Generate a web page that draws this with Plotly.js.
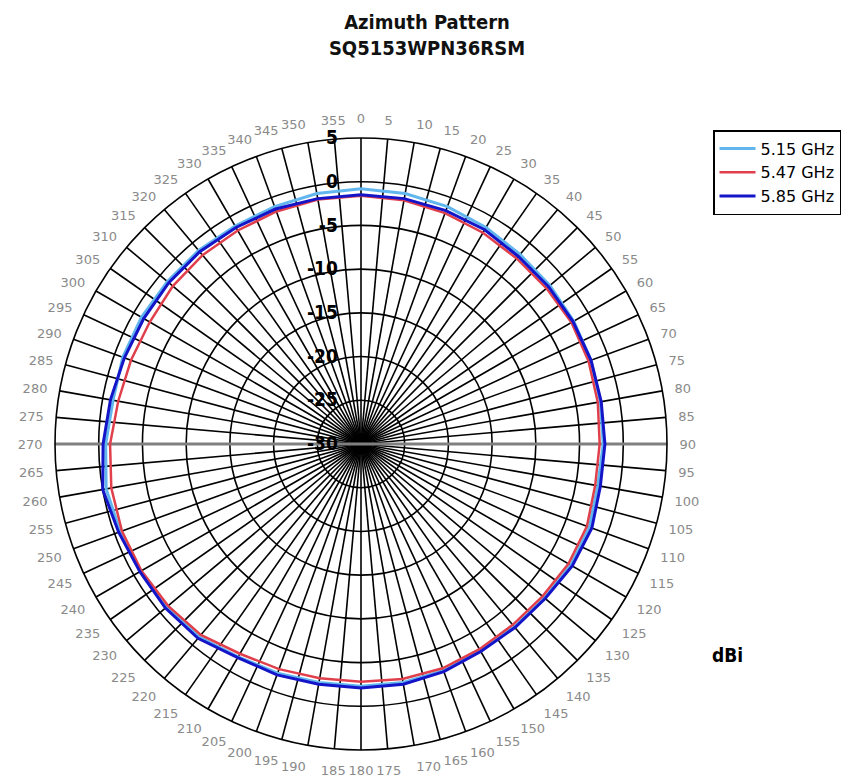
<!DOCTYPE html>
<html>
<head>
<meta charset="utf-8">
<script src="https://cdn.plot.ly/plotly-3.0.1.min.js"></script>
<style>html,body{margin:0;padding:0;background:#fff;}#chart{width:854px;height:782px;}</style>
</head>
<body>
<div id="chart"></div>
<script>
const angles = [0,10,20,30,40,50,60,70,80,90,100,110,120,130,140,150,160,170,180,190,200,210,220,230,240,250,260,270,280,290,300,310,320,330,340,350,360];
const g515 = [-0.8,-0.9,-1.1,-1.4,-1.7,-1.8,-1.9,-2.0,-2.2,-2.3,-2.5,-2.2,-2.3,-2.6,-2.7,-2.7,-2.4,-2.3,-2.3,-2.3,-2.1,-1.9,-1.2,-1.0,-0.9,-0.7,-0.4,-0.8,-1.2,-1.0,-1.0,-1.1,-1.1,-1.2,-1.1,-0.9,-0.8];
const g547 = [-1.6,-1.7,-1.9,-2.1,-2.3,-2.3,-2.2,-2.3,-2.5,-2.7,-2.8,-2.5,-2.6,-2.9,-3.0,-2.9,-2.7,-2.7,-2.8,-2.8,-2.6,-2.3,-1.5,-1.2,-1.0,-0.9,-1.0,-1.3,-1.8,-2.0,-2.1,-1.9,-1.8,-1.8,-1.7,-1.6,-1.6];
const g585 = [-1.5,-1.5,-1.6,-1.7,-2.0,-2.0,-2.0,-2.0,-2.1,-2.1,-2.2,-1.9,-2.1,-2.5,-2.6,-2.6,-2.3,-2.1,-2.1,-2.1,-1.9,-1.8,-1.0,-0.8,-0.8,-0.5,0.0,-0.5,-0.9,-1.2,-1.3,-1.3,-1.3,-1.4,-1.4,-1.5,-1.5];
const seriesNames = ["5.15 GHz","5.47 GHz","5.85 GHz"];
const radialTicks = [-30,-25,-20,-15,-10,-5,0,5];
const radialTickText = radialTicks.map(String);
const angleTicks = [0,5,10,15,20,25,30,35,40,45,50,55,60,65,70,75,80,85,90,95,100,105,110,115,120,125,130,135,140,145,150,155,160,165,170,175,180,185,190,195,200,205,210,215,220,225,230,235,240,245,250,255,260,265,270,275,280,285,290,295,300,305,310,315,320,325,330,335,340,345,350,355];
const angleTickText = angleTicks.map(String);
const axisLineR = [5,-30,5];
const axisLineTheta = [90,90,270];

const font = "DejaVu Sans, Verdana, sans-serif";
const condFont = "DejaVu Sans Condensed, DejaVu Sans, sans-serif";
const traces = [
  {type:"scatterpolar", mode:"lines", r:axisLineR, theta:axisLineTheta, line:{color:"#808080", width:3}, showlegend:false, hoverinfo:"skip"},
  {type:"scatterpolar", mode:"lines", name:seriesNames[0], r:g515, theta:angles, line:{color:"#62b6ee", width:3}},
  {type:"scatterpolar", mode:"lines", name:seriesNames[1], r:g547, theta:angles, line:{color:"#e0404c", width:2.5}},
  {type:"scatterpolar", mode:"lines", name:seriesNames[2], r:g585, theta:angles, line:{color:"#1414c8", width:3}}
];
const layout = {
  width:854, height:782,
  margin:{l:0,r:0,t:0,b:0},
  paper_bgcolor:"#fff",
  title:{text:"<b>Azimuth Pattern<br>SQ5153WPN36RSM</b>", x:0.5, xanchor:"center", y:0.963, yanchor:"top", font:{family:condFont, size:20, color:"#111"}},
  polar:{
    domain:{x:[55/854, 667/854], y:[1-750/782, 1-138/782]},
    bgcolor:"#fff",
    angularaxis:{direction:"clockwise", rotation:90, tickmode:"array", tickvals:angleTicks, ticktext:angleTickText,
      showline:true, linecolor:"#000", linewidth:1.6, gridcolor:"#000", gridwidth:1.6,
      ticks:"outside", ticklen:9, tickcolor:"rgba(0,0,0,0)", tickfont:{family:font, size:13, color:"#8a8a8a"}},
    radialaxis:{range:[-30,5], tickmode:"array", tickvals:radialTicks, ticktext:radialTickText, angle:90, tickangle:90, side:"counterclockwise",
      showline:false, gridcolor:"#000", gridwidth:1.6, ticks:"outside", ticklen:16, tickcolor:"rgba(0,0,0,0)",
      tickfont:{family:condFont, size:19, color:"#000", weight:"bold"}}
  },
  legend:{x:713/854, y:1-130/782, xanchor:"left", yanchor:"top", bordercolor:"#000", borderwidth:1.5,
    bgcolor:"#fff", font:{family:font, size:16, color:"#000"}, tracegroupgap:0, itemwidth:36},
  annotations:[{text:"<b>dBi</b>", x:710/854, y:1-655/782, xref:"paper", yref:"paper", xanchor:"left", yanchor:"middle", showarrow:false, font:{family:condFont, size:19, color:"#000"}}],
  showlegend:true
};
Plotly.newPlot("chart", traces, layout, {displayModeBar:false, staticPlot:true});
</script>
</body>
</html>
